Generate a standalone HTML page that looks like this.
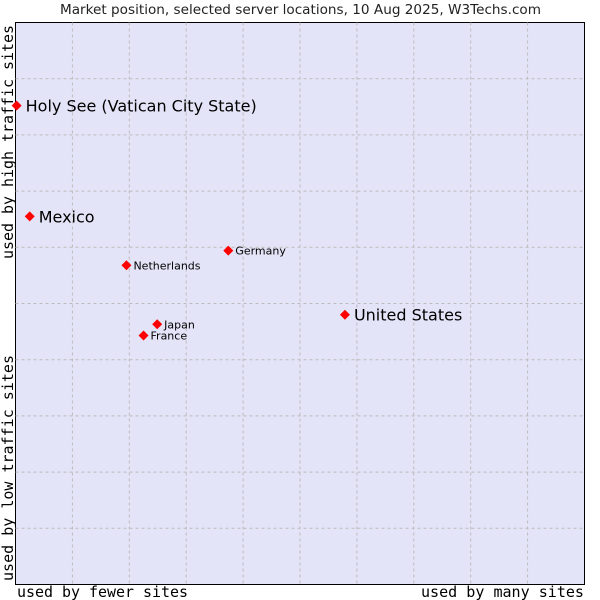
<!DOCTYPE html>
<html><head><meta charset="utf-8"><style>
body{margin:0;background:#fff;width:600px;height:600px;overflow:hidden}
svg{display:block}
</style></head><body>
<svg id="chart" width="600" height="600" xmlns="http://www.w3.org/2000/svg">
<text x="60" y="14" textLength="481" lengthAdjust="spacingAndGlyphs" font-family="DejaVu Sans, sans-serif" font-size="13" fill="#222">Market position, selected server locations, 10 Aug 2025, W3Techs.com</text>
<rect x="15.5" y="22.5" width="569" height="562" fill="#e4e4f8" stroke="#000"/>
<g id="grid"></g>
<text x="17" y="597" textLength="171" lengthAdjust="spacingAndGlyphs" font-family="DejaVu Sans Mono, Liberation Mono, monospace" font-size="15" fill="#000">used by fewer sites</text>
<text x="421" y="597" textLength="163" lengthAdjust="spacingAndGlyphs" font-family="DejaVu Sans Mono, Liberation Mono, monospace" font-size="15" fill="#000">used by many sites</text>
<text transform="translate(13,581) rotate(-90)" textLength="226" lengthAdjust="spacingAndGlyphs" font-family="DejaVu Sans Mono, Liberation Mono, monospace" font-size="15" fill="#000">used by low traffic sites</text>
<text transform="translate(13,259) rotate(-90)" textLength="234" lengthAdjust="spacingAndGlyphs" font-family="DejaVu Sans Mono, Liberation Mono, monospace" font-size="15" fill="#000">used by high traffic sites</text>
<g id="points"></g>
</svg>
<script>
const names = ["Holy See (Vatican City State)","Mexico","Germany","Netherlands","United States","Japan","France"];
const xVals = [0.02,0.25,3.74,1.95,5.79,2.49,2.25];
const yVals = [8.52,6.55,5.94,5.68,4.80,4.63,4.43];
const big = [true,true,false,false,true,false,false];
const L=15.5,R=584.5,T=22.5,B=584.5;
const xs=v=>L+(R-L)*v/10, ys=v=>B-(B-T)*v/10;
const NS="http://www.w3.org/2000/svg";
const grid=document.getElementById('grid');
for(let i=1;i<10;i++){
  const v=document.createElementNS(NS,'line');
  v.setAttribute('x1',xs(i));v.setAttribute('x2',xs(i));v.setAttribute('y1',T);v.setAttribute('y2',B);
  v.setAttribute('stroke','#bbb');v.setAttribute('stroke-dasharray','3,3');
  
  
  grid.appendChild(v);
  const h=document.createElementNS(NS,'line');
  h.setAttribute('y1',ys(i));h.setAttribute('y2',ys(i));h.setAttribute('x1',L);h.setAttribute('x2',R);
  h.setAttribute('stroke','#bbb');h.setAttribute('stroke-dasharray','3,3');
  
  
  grid.appendChild(h);
}
const pts=document.getElementById('points');
names.forEach((n,i)=>{
  const x=xs(xVals[i]), y=ys(yVals[i]);
  const p=document.createElementNS(NS,'polygon');
  p.setAttribute('points',`${x},${y-5} ${x+5},${y} ${x},${y+5} ${x-5},${y}`);
  p.setAttribute('fill','#f00');
  
  
  pts.appendChild(p);
  const t=document.createElementNS(NS,'text');
  t.setAttribute('x',x+(big[i]?9:7));t.setAttribute('y',y+(big[i]?6:4));
  t.setAttribute('font-family','DejaVu Sans, sans-serif');
  t.setAttribute('font-size',big[i]?16:11);
  t.textContent=n;
  
  
  pts.appendChild(t);
});
</script>
</body></html>
